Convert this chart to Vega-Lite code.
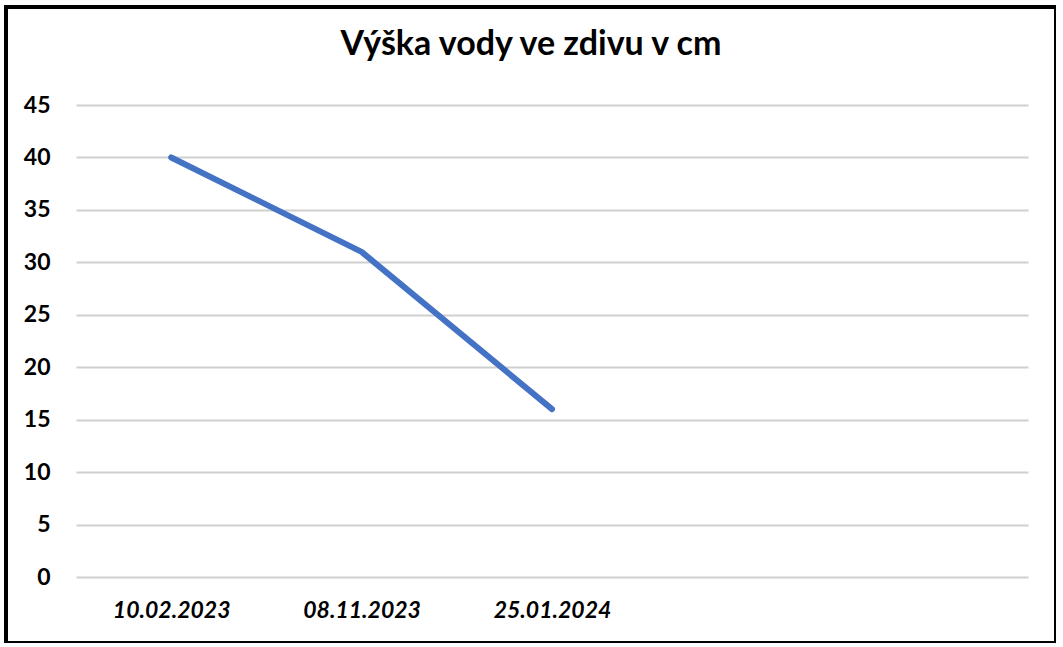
{
  "$schema": "https://vega.github.io/schema/vega-lite/v6.json",
  "autosize": {"type": "none"},
  "width": 1050,
  "height": 636,
  "padding": {"left": 6, "top": 7, "right": 0, "bottom": 0},
  "background": "white",
  "title": {
    "text": "Výška vody ve zdivu v cm",
    "font": "Lato",
    "fontSize": 34,
    "fontWeight": "bold",
    "color": "#000000",
    "anchor": "middle",
    "frame": "group",
    "offset": -55
  },
  "config": {
    "view": {"stroke": "#000000", "strokeWidth": 4},
    "axis": {"labelFont": "Lato", "labelFontSize": 23, "labelFontWeight": "bold", "labelColor": "#000000"}
  },
  "data": {
    "values": [
      {"date": "10.02.2023", "value": 40},
      {"date": "08.11.2023", "value": 31},
      {"date": "25.01.2024", "value": 16}
    ]
  },
  "mark": {"type": "line", "color": "#4472C4", "strokeWidth": 6, "strokeCap": "round", "strokeJoin": "round"},
  "encoding": {
    "x": {
      "field": "date",
      "type": "ordinal",
      "sort": null,
      "scale": {"domain": ["10.02.2023", "08.11.2023", "25.01.2024", "a", "b"], "range": [70, 1022], "type": "point", "padding": 0.5},
      "axis": {
        "title": null,
        "labelAngle": 0,
        "labelFontStyle": "italic",
        "labelExpr": "datum.value == 'a' || datum.value == 'b' ? '' : datum.value",
        "domain": false,
        "ticks": false,
        "tickSize": 0,
        "grid": false,
        "offset": -66,
        "labelPadding": 22
      }
    },
    "y": {
      "field": "value",
      "type": "quantitative",
      "scale": {"domain": [0, 45], "range": [570, 98], "nice": false, "zero": true},
      "axis": {
        "title": null,
        "values": [0, 5, 10, 15, 20, 25, 30, 35, 40, 45],
        "domain": false,
        "ticks": false,
        "tickSize": 0,
        "grid": true,
        "gridColor": "#d0d0d0",
        "gridWidth": 2,
        "offset": -70,
        "labelPadding": 26
      }
    }
  }
}
